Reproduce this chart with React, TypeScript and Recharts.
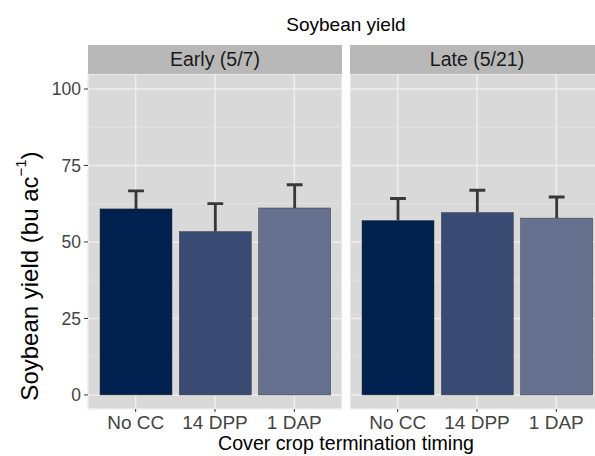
import React from 'react';
import { BarChart, Bar, XAxis, YAxis, CartesianGrid, ReferenceLine } from 'recharts';

const categories = ['No CC', '14 DPP', '1 DAP'];
const earlyYield = [60.8, 53.4, 61.1];
const earlyErr = [5.9, 9.1, 7.6];
const lateYield = [57.0, 59.6, 57.8];
const lateErr = [7.2, 7.3, 6.9];
const yTicks = [0, 25, 50, 75, 100];
const minorTicks = [12.5, 37.5, 62.5, 87.5];
const panelTitles = ['Early (5/7)', 'Late (5/21)'];

const fills = ['#00204d', '#3a4b73', '#66718f'];
const FONT = '"Liberation Sans", Arial, Helvetica, sans-serif';

const earlyData = categories.map((c, i) => ({ treatment: c, yield: earlyYield[i], err: earlyErr[i] }));
const lateData = categories.map((c, i) => ({ treatment: c, yield: lateYield[i], err: lateErr[i] }));

// bar + upper-only error bar (ggplot style, no lower cap)
const BarWithError = (props: any) => {
  const { x, y, width, height, payload, index } = props;
  const unit = height / payload.yield;
  const top = y - payload.err * unit;
  const cx = x + width / 2;
  const cap = width * 0.11;
  return (
    <g>
      <path d={`M${cx},${y}V${top}M${cx - cap},${top}H${cx + cap}`} stroke="#383838" strokeWidth={2.8} fill="none" />
      <rect x={x} y={y} width={width} height={height} fill={fills[index]} stroke="#3a3a3a" strokeWidth={0.5} />
    </g>
  );
};

const PLOT_H = 335;
const XAXIS_H = 50;

const Panel = ({ data, showY, left, width }: { data: any[]; showY: boolean; left: number; width: number }) => (
  <div style={{ position: 'absolute', left, top: 74 }}>
    <BarChart width={width} height={PLOT_H + XAXIS_H} data={data} margin={{ top: 0, right: 0, left: 0, bottom: 0 }} barSize={72}>
      <CartesianGrid fill="#d9d9d9" stroke="#eeeeee" strokeWidth={1.5} />
      {minorTicks.map((v) => (
        <ReferenceLine key={v} y={v} stroke="#e4e4e4" strokeWidth={0.8} zIndex={-90} />
      ))}
      <XAxis
        dataKey="treatment"
        height={XAXIS_H}
        padding={{ left: 8, right: 8 }}
        axisLine={false}
        tickSize={3}
        tickMargin={4}
        tickLine={{ stroke: '#333' }}
        tick={{ fill: '#444', fontSize: 19, fontFamily: FONT }}
        interval={0}
      />
      <YAxis
        hide={!showY}
        width={showY ? 88 : 0}
        type="number"
        domain={[-4.6, 104.9]}
        allowDataOverflow
        ticks={yTicks}
        axisLine={false}
        tickSize={4}
        tickMargin={3}
        tickLine={{ stroke: '#333' }}
        tick={{ fill: '#444', fontSize: 17.5, fontFamily: FONT }}
      />
      <Bar dataKey="yield" shape={BarWithError} isAnimationActive={false} />
    </BarChart>
  </div>
);

const Strip = ({ label, left }: { label: string; left: number }) => (
  <div
    style={{
      position: 'absolute', left, top: 45, width: 254, height: 29, background: '#b8b8b8',
      display: 'flex', alignItems: 'center', justifyContent: 'center',
      fontSize: 19.5, color: '#1a1a1a', fontFamily: FONT,
    }}
  >
    {label}
  </div>
);

export default function App() {
  return (
    <div style={{ position: 'fixed', left: 0, top: 0, width: 595, height: 456, overflow: 'hidden', background: '#fff', fontFamily: FONT }}>
      <div style={{ position: 'absolute', left: 146, width: 400, top: 14, textAlign: 'center', fontSize: 19, color: '#000' }}>
        Soybean yield
      </div>
      <Strip label={panelTitles[0]} left={88} />
      <Strip label={panelTitles[1]} left={350} />
      <Panel data={earlyData} showY left={0} width={342} />
      <Panel data={lateData} showY={false} left={350} width={254} />
      <div style={{ position: 'absolute', left: 146, width: 400, top: 432, textAlign: 'center', fontSize: 19.6, lineHeight: '22px', color: '#000' }}>
        Cover crop termination timing
      </div>
      <svg width={60} height={456} style={{ position: 'absolute', left: 0, top: 0 }}>
        <text
          x={0}
          y={0}
          transform="translate(29,276) rotate(-90)"
          textAnchor="middle"
          dominantBaseline="central"
          fontSize={24}
          fontFamily={FONT}
          fill="#000"
        >
          Soybean yield (bu ac
          <tspan fontSize={15} dy={-9}>−1</tspan>
          <tspan dy={9}>)</tspan>
        </text>
      </svg>
    </div>
  );
}
